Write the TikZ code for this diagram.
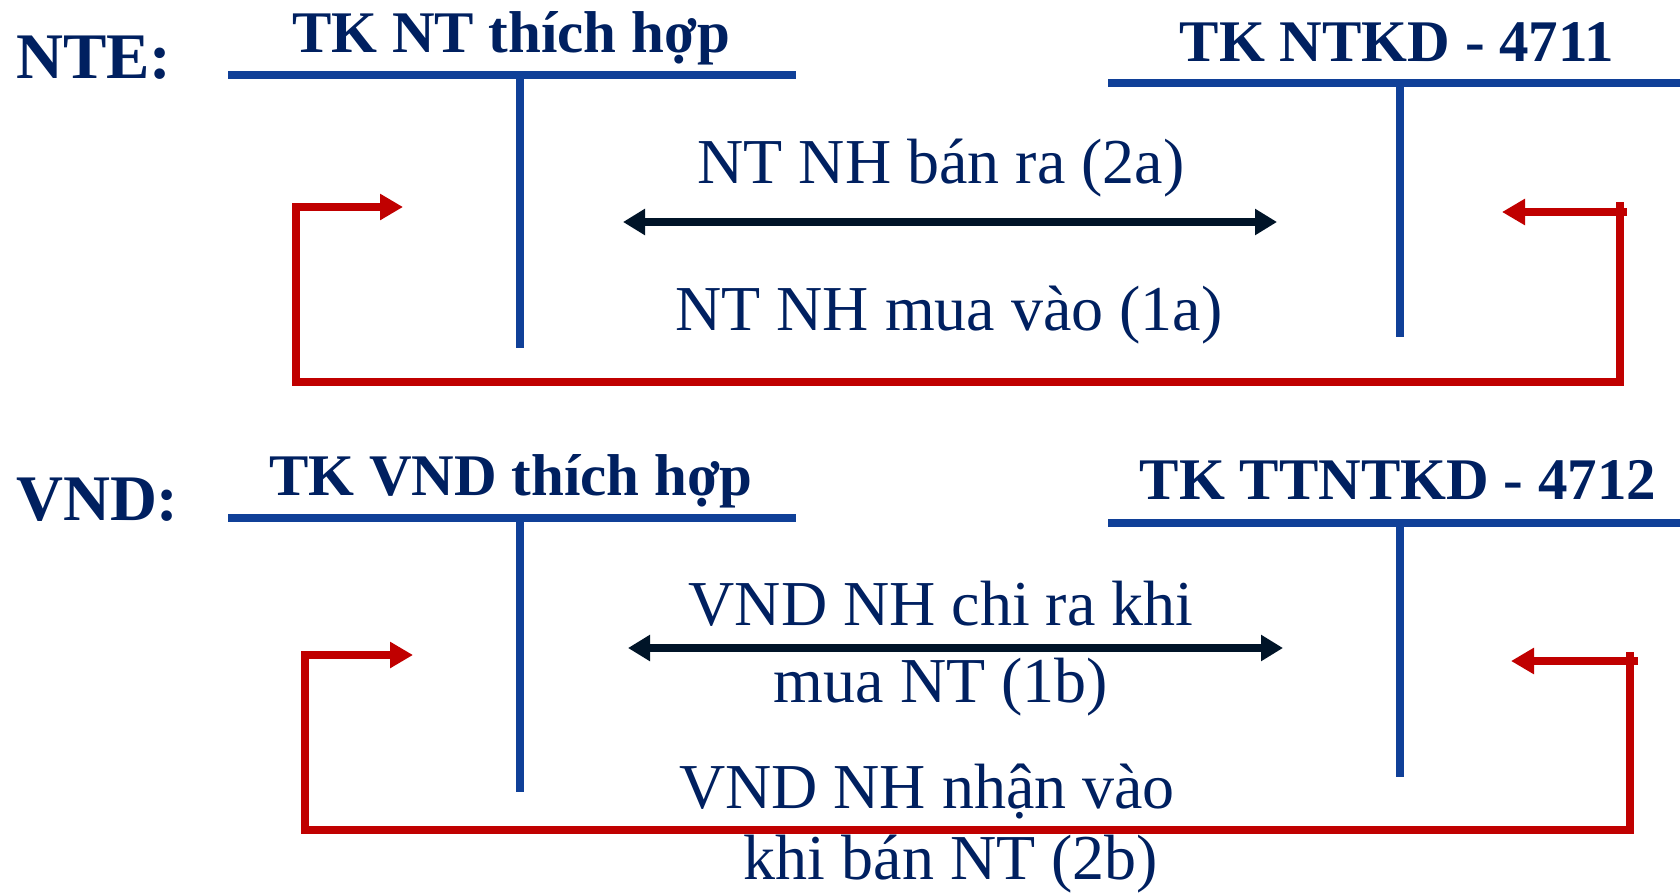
\documentclass[tikz,border=0pt]{standalone}
\usepackage{fontspec}
\setmainfont{Liberation Serif}
\usetikzlibrary{arrows.meta}
\definecolor{navy}{RGB}{0,32,96}
\definecolor{tblue}{RGB}{16,64,152}
\definecolor{tred}{RGB}{192,0,0}
\definecolor{dark}{RGB}{0,20,40}
\tikzset{
  tline/.style={draw=tblue,line width=8pt},
  redpath/.style={draw=tred,line width=8pt,line join=miter},
  redarrow/.style={draw=tred,line width=8pt,-{Triangle[length=23pt,width=25pt]}},
  blkarrow/.style={draw=dark,line width=8pt,{Triangle[length=22pt,width=25pt]}-{Triangle[length=22pt,width=25pt]}},
  cur/.style={text=navy,inner sep=0pt,anchor=base,font=\bfseries\fontsize{65}{70}\selectfont},
  hdr/.style={text=navy,inner sep=0pt,anchor=base,font=\bfseries\fontsize{59}{66}\selectfont},
  lbl/.style={text=navy,inner sep=0pt,anchor=base,font=\fontsize{64}{70}\selectfont}
}
\begin{document}
\begin{tikzpicture}[x=1pt,y=-1pt]
\useasboundingbox (0,0) rectangle (1680,894);
% labels
\node[cur,anchor=base west] (nte) at (16,78) {NTE:};
\node[cur,anchor=base west] (vnd) at (16,520) {VND:};
\node[hdr] (h1) at (511,52) {TK NT thích hợp};
\node[hdr] (h2) at (1397,61) {TK NTKD - 4711};
\node[hdr] (h3) at (511,495) {TK VND thích hợp};
\node[hdr] (h4) at (1398,499) {TK TTNTKD - 4712};
\node[lbl] (l2a) at (941,183) {NT NH bán ra (2a)};
\node[lbl] (l1a) at (949,330) {NT NH mua vào (1a)};
\node[lbl] (l1b1) at (941,625) {VND NH chi ra khi};
\node[lbl] (l1b2) at (941,702) {mua NT (1b)};
\node[lbl] (l2b1) at (927,808) {VND NH nhận vào};
\node[lbl] (l2b2) at (951,879) {khi bán NT (2b)};
% T accounts
\coordinate (t1l) at (228,75); \coordinate (t1r) at (796,75);
\coordinate (t1t) at (520,75); \coordinate (t1b) at (520,348);
\coordinate (t2l) at (1108,83); \coordinate (t2r) at (1680,83);
\coordinate (t2t) at (1400,83); \coordinate (t2b) at (1400,337);
\coordinate (t3l) at (228,518); \coordinate (t3r) at (796,518);
\coordinate (t3t) at (520,518); \coordinate (t3b) at (520,792);
\coordinate (t4l) at (1108,523); \coordinate (t4r) at (1680,523);
\coordinate (t4t) at (1400,523); \coordinate (t4b) at (1400,777);
\draw[tline] (t1l) -- (t1r); \draw[tline] (t1t) -- (t1b);
\draw[tline] (t2l) -- (t2r); \draw[tline] (t2t) -- (t2b);
\draw[tline] (t3l) -- (t3r); \draw[tline] (t3t) -- (t3b);
\draw[tline] (t4l) -- (t4r); \draw[tline] (t4t) -- (t4b);
% black arrows
\coordinate (a1l) at (623,222); \coordinate (a1r) at (1277,222);
\coordinate (a2l) at (628,648); \coordinate (a2r) at (1283,648);
\draw[blkarrow] (a1l) -- (a1r);
\draw[blkarrow] (a2l) -- (a2r);
% red loops (top)
\coordinate (r1a) at (1620,202); \coordinate (r1b) at (1620,382);
\coordinate (r1c) at (296,382); \coordinate (r1d) at (296,207);
\coordinate (r1e) at (403,207);
\coordinate (r1f) at (1627,212); \coordinate (r1g) at (1502,212);
\draw[redpath] (r1a) -- (r1b) -- (r1c) -- (r1d) -- ([xshift=-22pt]r1e);
\draw[redarrow] (r1d) -- (r1e);
\draw[redarrow] (r1f) -- (r1g);
% red loops (bottom)
\coordinate (r2a) at (1630,652); \coordinate (r2b) at (1630,830);
\coordinate (r2c) at (305,830); \coordinate (r2d) at (305,655);
\coordinate (r2e) at (413,655);
\coordinate (r2f) at (1638,661); \coordinate (r2g) at (1511,661);
\draw[redpath] (r2a) -- (r2b) -- (r2c) -- (r2d) -- ([xshift=-22pt]r2e);
\draw[redarrow] (r2d) -- (r2e);
\draw[redarrow] (r2f) -- (r2g);
\end{tikzpicture}
\end{document}
